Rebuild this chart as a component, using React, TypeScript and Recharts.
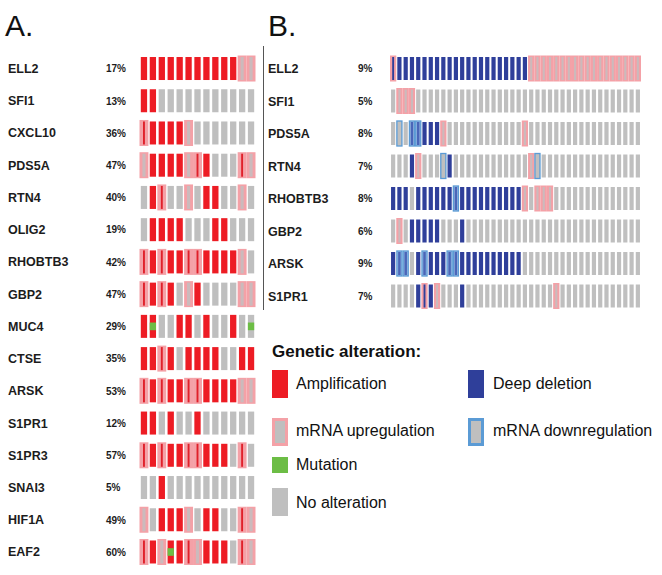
import { ScatterChart, Scatter, XAxis, YAxis } from 'recharts';

// panel A: 13 samples per gene
const genesA = ['ELL2', 'SFI1', 'CXCL10', 'PDS5A', 'RTN4', 'OLIG2', 'RHOBTB3', 'GBP2', 'MUC4', 'CTSE', 'ARSK', 'S1PR1', 'S1PR3', 'SNAI3', 'HIF1A', 'EAF2'];
const pctA = ['17%', '13%', '36%', '47%', '40%', '19%', '42%', '47%', '29%', '35%', '53%', '12%', '57%', '5%', '49%', '60%'];
// A amplification, U mRNA up, B amp + mRNA up, M amp + mutation, G mutation only, N none
const altA = [
    'AAAAAAAAAAAUU',
    'AANNNNNNNNNNN',
    'BAAAAUNNNNNNN',
    'UAAAAUBANNNBU',
    'NABNNUNAANNUN',
    'NAAAANNNAANNN',
    'BABAABBAAAAUN',
    'BABANUANNNNUU',
    'AMNNAANANNANG',
    'AABANAAAANNAA',
    'BABAABBAAAAUU',
    'AANANNANNNNNN',
    'BABAABBAAANBN',
    'NNANNNNNNNNNN',
    'UNAAAUNAANNBU',
    'BAUMABUAAANBU',
];

// panel B: 40 samples per gene (D deep deletion, d mRNA down, X del + down, Y del + up)
const genesB = ['ELL2', 'SFI1', 'PDS5A', 'RTN4', 'RHOBTB3', 'GBP2', 'ARSK', 'S1PR1'];
const pctB = ['9%', '5%', '8%', '7%', '8%', '6%', '9%', '7%'];
const altB = [
    'YDDDDDDDDD DDDDDDDDDD DDUUUUUUUU UUUUUUUUUU',
    'NUUUNNNNNN NNNNNNNNNN NNNNNNNNNN NNNNNNNNNN',
    'NdNXXDDDUN NNNNNNNNNN NUNNNNNNNN NNNNNNNNNN',
    'NNNDUNNNdD NNNNNNNNNN NNUdNNNNNN NNNNNNNNNN',
    'DDDNDDDDDD XDDDDDDDDD DUNUUUNNNN NNNNNNNNNN',
    'NUNDDDDDNN NDNNNNNNNN NNNNNNNNNN NNNNNNNNNN',
    'DXXNDXDDDX XDDDDDDDDD DNNNNNNNNN NNNNNNNNNN',
    'NNNNDYDUNN NDNNNNNNNN NNNNNNUNNN NNNNNNNNNN',
].map(s => s.replace(/ /g, ''));

const RED = '#ed1c24';
const GRAY = '#bfbfbf';
const PINK = '#f4a1a7';
const PINK_IN = '#cbbabc';
const NAVY = '#2f3f9a';
const BLUE_LINE = '#5b9bd5';
const GREEN = '#6cbd45';
const FONT = "'Liberation Sans', Arial, sans-serif";

const toCells = (rows: string[]) =>
    rows.flatMap((r, y) => r.split('').map((code, x) => ({ x, y, code })));

const makeShape = (pitch: number, bw: number, bh: number) => (props: any) => {
    const { cx, cy, payload } = props;
    if (cx == null || cy == null) return <g />;
    const top = cy - bh / 2;
    const bar = (w: number, fill: string) => (
        <rect x={cx - w / 2} y={top} width={w} height={bh} fill={fill} />
    );
    const pinkBox = <rect x={cx - pitch / 2} y={top - 1.5} width={pitch} height={bh + 3} fill={PINK} />;
    const blueBox = (fill: string) => (
        <rect x={cx - pitch / 2 + 0.6} y={top - 1} width={pitch - 1.2} height={bh + 2}
            fill={fill} stroke={BLUE_LINE} strokeWidth={1.3} />
    );
    const mut = <rect x={cx - bw / 2} y={cy - bh / 6} width={bw} height={bh / 3} fill={GREEN} />;
    switch (payload.code) {
        case 'A': return bar(bw, RED);
        case 'U': return <g>{pinkBox}{bar(bw * 0.5, PINK_IN)}</g>;
        case 'B': return <g>{pinkBox}{bar(Math.max(1.6, bw * 0.3), '#e0202a')}</g>;
        case 'M': return <g>{bar(bw, RED)}{mut}</g>;
        case 'G': return <g>{bar(bw, GRAY)}{mut}</g>;
        case 'D': return bar(bw, NAVY);
        case 'd': return <g>{blueBox(GRAY)}</g>;
        case 'X': return <g>{blueBox('#9dbbe3')}{bar(bw * 0.6, '#4a66b8')}</g>;
        case 'Y': return <g>{pinkBox}{bar(bw * 0.45, NAVY)}</g>;
        default: return bar(bw, GRAY);
    }
};

const makeTick = (genes: string[], pcts: string[], geneX: number, pctX: number) => (props: any) => {
    const { y, payload } = props;
    const i = payload.value;
    return (
        <g>
            <text x={geneX} y={y} dy={4.5} fontSize={12.5} fontWeight="bold" fill="#1c1c1c" fontFamily={FONT}>{genes[i]}</text>
            <text x={pctX} y={y} dy={3.8} fontSize={10} fontWeight="bold" fill="#1c1c1c" fontFamily={FONT}>{pcts[i]}</text>
        </g>
    );
};

const legendText = { position: 'absolute' as const, fontSize: 16, fontFamily: FONT, color: '#111', lineHeight: '18px' };

function Swatch({ left, top, w = 16, h = 28, fill, border }: { left: number; top: number; w?: number; h?: number; fill: string; border?: string }) {
    return (
        <div style={{
            position: 'absolute', left, top, width: w, height: h, background: fill,
            boxSizing: 'border-box', border: border ? `3px solid ${border}` : 'none',
        }} />
    );
}

export default function App() {
    const cellsA = toCells(altA);
    const cellsB = toCells(altB);
    const yTicksA = genesA.map((_, i) => i);
    const yTicksB = genesB.map((_, i) => i);

    return (
        <div style={{ position: 'absolute', left: 0, top: 0, width: 662, height: 575, background: '#fff', fontFamily: FONT }}>
            <div style={{ position: 'absolute', left: 5, top: 8, fontSize: 30, lineHeight: '36px', color: '#111' }}>A.</div>
            <div style={{ position: 'absolute', left: 268, top: 8, fontSize: 30, lineHeight: '36px', color: '#111' }}>B.</div>
            <div style={{ position: 'absolute', left: 263, top: 46, width: 1, height: 264, background: '#555' }} />

            <div style={{ position: 'absolute', left: 0, top: 0 }}>
                <ScatterChart width={262} height={575} margin={{ top: 52.4, right: 6.5, bottom: 6.9, left: 0 }}>
                    <XAxis dataKey="x" type="number" domain={[-0.5, 12.5]} hide />
                    <YAxis dataKey="y" type="number" domain={[-0.5, 15.5]} reversed ticks={yTicksA} interval={0}
                        width={139.5} axisLine={false} tickLine={false} tick={makeTick(genesA, pctA, 8, 106)} />
                    <Scatter data={cellsA} shape={makeShape(116 / 13, 6.3, 23)} isAnimationActive={false} />
                </ScatterChart>
            </div>

            <div style={{ position: 'absolute', left: 262, top: 0 }}>
                <ScatterChart width={400} height={320} margin={{ top: 52.25, right: 21, bottom: 7.75, left: 0 }}>
                    <XAxis dataKey="x" type="number" domain={[-0.5, 39.5]} hide />
                    <YAxis dataKey="y" type="number" domain={[-0.5, 7.5]} reversed ticks={yTicksB} interval={0}
                        width={128} axisLine={false} tickLine={false} tick={makeTick(genesB, pctB, 6, 96)} />
                    <Scatter data={cellsB} shape={makeShape(251 / 40, 4.2, 23)} isAnimationActive={false} />
                </ScatterChart>
            </div>

            <div style={{ ...legendText, left: 272, top: 343, fontSize: 17, fontWeight: 'bold' }}>Genetic alteration:</div>

            <Swatch left={272} top={370} fill={RED} />
            <div style={{ ...legendText, left: 296, top: 375 }}>Amplification</div>
            <Swatch left={272} top={418} fill={GRAY} border={PINK} />
            <div style={{ ...legendText, left: 296, top: 422 }}>mRNA upregulation</div>
            <Swatch left={272} top={457} h={16} fill={GREEN} />
            <div style={{ ...legendText, left: 296, top: 456 }}>Mutation</div>
            <Swatch left={272} top={488} fill={GRAY} />
            <div style={{ ...legendText, left: 296, top: 494 }}>No alteration</div>

            <Swatch left={468} top={370} fill={NAVY} />
            <div style={{ ...legendText, left: 493, top: 375 }}>Deep deletion</div>
            <Swatch left={468} top={418} fill={GRAY} border={BLUE_LINE} />
            <div style={{ ...legendText, left: 493, top: 422 }}>mRNA downregulation</div>
        </div>
    );
}
